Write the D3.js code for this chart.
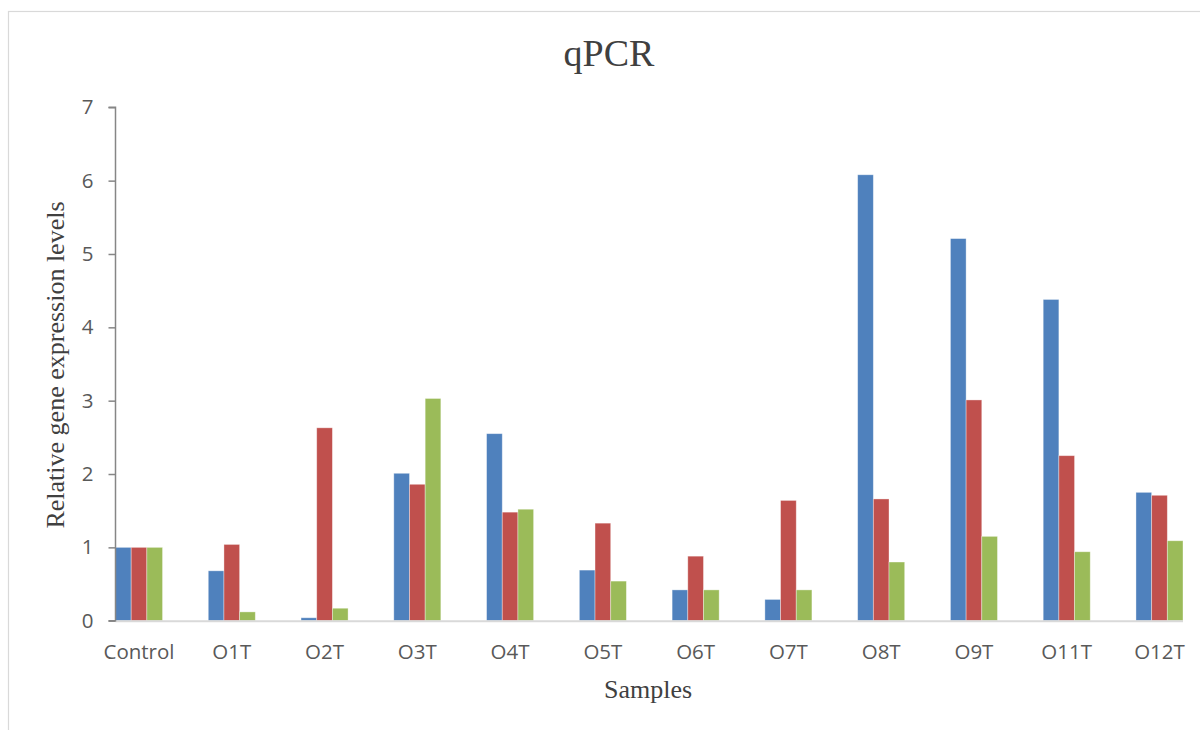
<!DOCTYPE html>
<html>
<head>
<meta charset="utf-8">
<script src="https://cdn.jsdelivr.net/npm/d3@7"></script>
<style>
  html, body { margin: 0; padding: 0; background: #fff; }
  svg { display: block; }
</style>
</head>
<body>
<svg id="chart" width="1200" height="730"></svg>
<script>
// ---- data ----
const categories = ["Control", "O1T", "O2T", "O3T", "O4T", "O5T", "O6T", "O7T", "O8T", "O9T", "O11T", "O12T"];
const seriesNames = ["Series1", "Series2", "Series3"];
const series1 = [1.00, 0.68, 0.04, 2.01, 2.55, 0.69, 0.42, 0.29, 6.08, 5.21, 4.38, 1.75];
const series2 = [1.00, 1.04, 2.63, 1.86, 1.48, 1.33, 0.88, 1.64, 1.66, 3.01, 2.25, 1.71];
const series3 = [1.00, 0.12, 0.17, 3.03, 1.52, 0.54, 0.42, 0.42, 0.80, 1.15, 0.94, 1.09];
const yTicks = [0, 1, 2, 3, 4, 5, 6, 7];
const titleText = "qPCR";
const xTitle = "Samples";
const yTitle = "Relative gene expression levels";

const seriesValues = [series1, series2, series3];
const colors = ["#4F81BD", "#C0504D", "#9BBB59"];

// ---- layout ----
const svg = d3.select("#chart");
const plotLeft = 115.5, plotRight = 1183, plotTop = 107.3, plotBottom = 620.7;

// chart border
svg.append("rect")
  .attr("x", 8.5).attr("y", 11.5)
  .attr("width", 1200).attr("height", 730)
  .attr("fill", "none").attr("stroke", "#d9d9d9").attr("stroke-width", 1.2);

const x = d3.scaleBand()
  .domain(categories)
  .range([plotLeft, plotRight])
  .paddingInner(0.493)
  .paddingOuter(0)
  .align(0);

const xs = d3.scaleBand()
  .domain(seriesNames)
  .range([0, x.bandwidth()])
  .padding(0);

const y = d3.scaleLinear().domain([0, 7]).range([plotBottom, plotTop]);

// bars
const data = [];
categories.forEach((c, i) => {
  seriesNames.forEach((s, j) => {
    data.push({ cat: c, ser: s, value: seriesValues[j][i], color: colors[j] });
  });
});

svg.append("g").selectAll("rect")
  .data(data)
  .join("rect")
  .attr("x", d => x(d.cat) + xs(d.ser))
  .attr("y", d => y(d.value))
  .attr("width", xs.bandwidth())
  .attr("height", d => y(0) - y(d.value))
  .attr("fill", d => d.color)
  .attr("stroke", "rgba(255,255,255,0.45)")
  .attr("stroke-width", 0.8);

// x axis line
svg.append("line")
  .attr("x1", plotLeft).attr("x2", plotRight)
  .attr("y1", y(0) + 0.5).attr("y2", y(0) + 0.5)
  .attr("stroke", "#d9d9d9").attr("stroke-width", 2);

// y axis
const yAxis = d3.axisLeft(y).tickValues(yTicks).tickSize(7).tickPadding(15).tickFormat(d3.format("d"));
const yg = svg.append("g").attr("transform", `translate(${plotLeft},0)`).call(yAxis);
yg.select(".domain").attr("stroke", "#868686").attr("stroke-width", 1.5)
  .attr("d", `M-7,${y(7)}H0V${y(0)}H-7`);
yg.selectAll(".tick line").attr("stroke", "#868686").attr("stroke-width", 1.5);
yg.selectAll(".tick text")
  .attr("fill", "#595959")
  .style("font-family", "'Open Sans', sans-serif")
  .style("font-size", "20.5px");

// x labels
svg.append("g").selectAll("text")
  .data(categories)
  .join("text")
  .attr("x", d => x(d) + x.bandwidth() / 2)
  .attr("y", 659)
  .attr("text-anchor", "middle")
  .attr("fill", "#595959")
  .style("font-family", "'Open Sans', sans-serif")
  .style("font-size", "20.5px")
  .text(d => d);

// title
svg.append("text")
  .attr("x", 609).attr("y", 66)
  .attr("text-anchor", "middle")
  .attr("fill", "#404040")
  .style("font-family", "'Liberation Serif', 'Times New Roman', serif")
  .style("font-size", "38px")
  .text(titleText);

// x title
svg.append("text")
  .attr("x", 648).attr("y", 698)
  .attr("text-anchor", "middle")
  .attr("fill", "#404040")
  .style("font-family", "'Liberation Serif', 'Times New Roman', serif")
  .style("font-size", "26px")
  .text(xTitle);

// y title
svg.append("text")
  .attr("transform", `translate(64,365) rotate(-90)`)
  .attr("text-anchor", "middle")
  .attr("fill", "#404040")
  .style("font-family", "'Liberation Serif', 'Times New Roman', serif")
  .style("font-size", "26px")
  .text(yTitle);
</script>
</body>
</html>
